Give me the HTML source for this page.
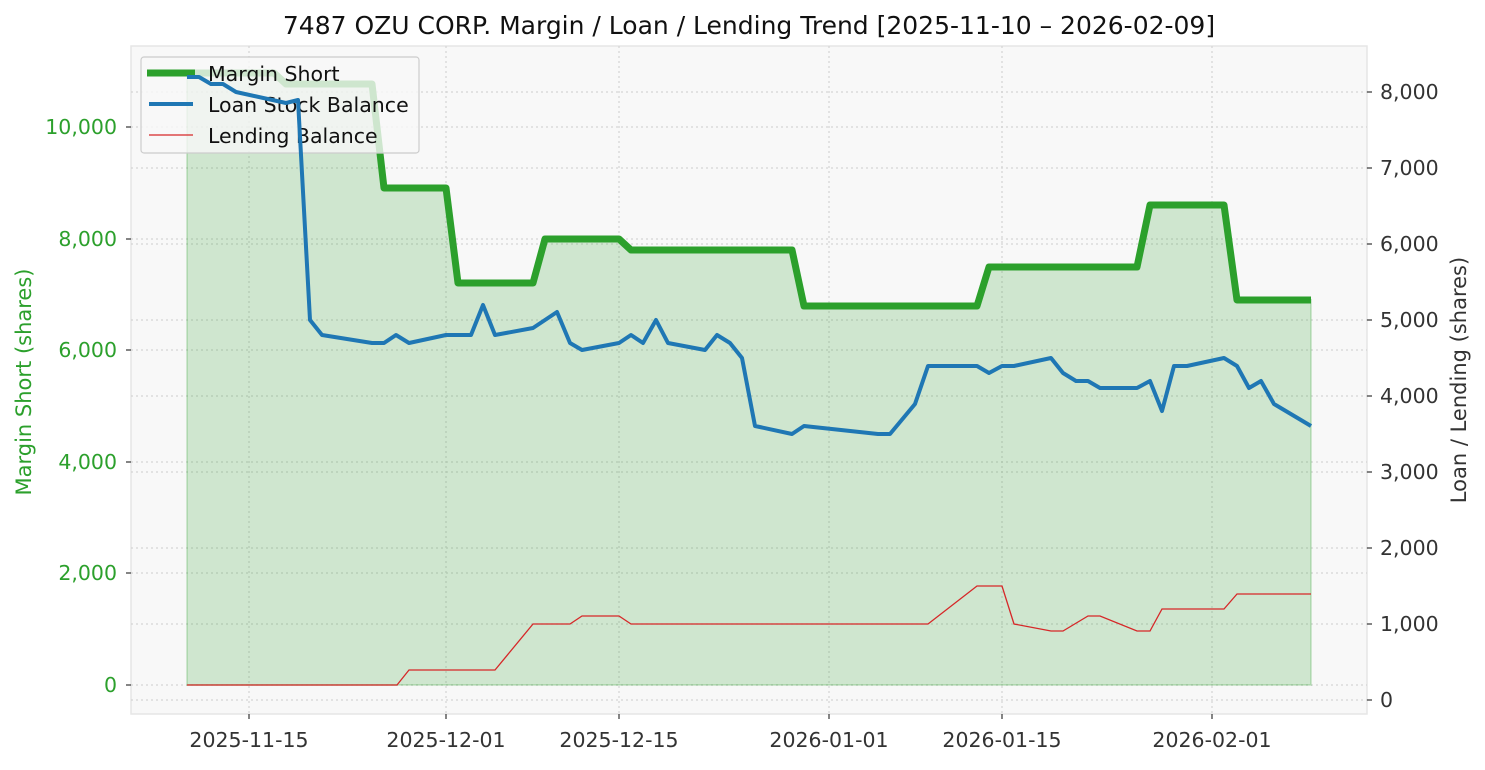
<!DOCTYPE html>
<html><head><meta charset="utf-8"><style>
html,body{margin:0;padding:0;background:#fff;}
svg text{font-family:"DejaVu Sans","Liberation Sans",sans-serif;}
</style></head><body>
<svg width="1485" height="765" viewBox="0 0 1485 765" xmlns="http://www.w3.org/2000/svg">
<rect x="0" y="0" width="1485" height="765" fill="#fff"/>
<rect x="131" y="46" width="1236" height="668" fill="#f8f8f8" stroke="#e6e6e6" stroke-width="1.5"/>
<g stroke="#d4d4d4" stroke-width="1.2" stroke-dasharray="2,3">
<line x1="249" y1="46" x2="249" y2="714"/><line x1="446" y1="46" x2="446" y2="714"/>
<line x1="619" y1="46" x2="619" y2="714"/><line x1="829" y1="46" x2="829" y2="714"/>
<line x1="1002" y1="46" x2="1002" y2="714"/><line x1="1212" y1="46" x2="1212" y2="714"/>
<line x1="131" y1="685" x2="1367" y2="685"/><line x1="131" y1="573" x2="1367" y2="573"/>
<line x1="131" y1="462" x2="1367" y2="462"/><line x1="131" y1="350" x2="1367" y2="350"/>
<line x1="131" y1="239" x2="1367" y2="239"/><line x1="131" y1="127" x2="1367" y2="127"/>
<line x1="131" y1="700" x2="1367" y2="700"/><line x1="131" y1="624" x2="1367" y2="624"/>
<line x1="131" y1="548" x2="1367" y2="548"/><line x1="131" y1="472" x2="1367" y2="472"/>
<line x1="131" y1="396" x2="1367" y2="396"/><line x1="131" y1="320" x2="1367" y2="320"/>
<line x1="131" y1="244" x2="1367" y2="244"/><line x1="131" y1="168" x2="1367" y2="168"/>
<line x1="131" y1="92" x2="1367" y2="92"/>
</g>
<polygon fill="#2ca02c" fill-opacity="0.2" stroke="#2ca02c" stroke-opacity="0.2" stroke-width="2" points="187,685 187,73 274,73 286,84 372,84 384,188 446,188 458,283 533,283 545,239 619,239 631,250 792,250 804,306 977,306 989,267 1137,267 1150,205 1224,205 1237,300 1311,300 1311,685"/>
<polyline fill="none" stroke="#2ca02c" stroke-width="7" stroke-linejoin="round" points="187,73 274,73 286,84 372,84 384,188 446,188 458,283 533,283 545,239 619,239 631,250 792,250 804,306 977,306 989,267 1137,267 1150,205 1224,205 1237,300 1311,300"/>
<rect x="141" y="57" width="278" height="96" rx="3" fill="#f8f8f8" fill-opacity="0.8" stroke="#ccc" stroke-width="1.2"/>
<line x1="147" y1="73" x2="195" y2="73" stroke="#2ca02c" stroke-width="7"/>
<line x1="149" y1="104" x2="193" y2="104" stroke="#1f77b4" stroke-width="4"/>
<line x1="149" y1="135" x2="193" y2="135" stroke="#d62728" stroke-width="1.3"/>
<g font-size="20.5" fill="#111"><text x="208" y="81">Margin Short</text><text x="208" y="112">Loan Stock Balance</text><text x="208" y="143">Lending Balance</text></g>
<polyline fill="none" stroke="#d62728" stroke-width="1.3" points="187,685 397,685 409,670 495,670 533,624 570,624 582,616 619,616 631,624 928,624 977,586 1002,586 1014,624 1051,631 1063,631 1088,616 1100,616 1137,631 1150,631 1162,609 1224,609 1237,594 1311,594"/>
<polyline fill="none" stroke="#1f77b4" stroke-width="4" stroke-linejoin="round" points="187,77 199,77 211,84 223,84 236,92 286,103 298,100 310,320 322,335 372,343 384,343 396,335 409,343 446,335 471,335 483,305 495,335 533,328 557,312 570,343 582,350 619,343 631,335 643,343 656,320 668,343 705,350 717,335 730,343 742,358 755,426 792,434 804,426 878,434 890,434 915,404 928,366 977,366 989,373 1002,366 1014,366 1051,358 1063,373 1076,381 1088,381 1100,388 1137,388 1150,381 1162,411 1174,366 1187,366 1224,358 1237,366 1249,388 1261,381 1274,404 1311,426"/>
<g stroke="#333" stroke-width="1.2">
<line x1="249" y1="714" x2="249" y2="719"/><line x1="446" y1="714" x2="446" y2="719"/><line x1="619" y1="714" x2="619" y2="719"/><line x1="829" y1="714" x2="829" y2="719"/><line x1="1002" y1="714" x2="1002" y2="719"/><line x1="1212" y1="714" x2="1212" y2="719"/>
<line x1="126" y1="685" x2="131" y2="685"/><line x1="126" y1="573" x2="131" y2="573"/><line x1="126" y1="462" x2="131" y2="462"/><line x1="126" y1="350" x2="131" y2="350"/><line x1="126" y1="239" x2="131" y2="239"/><line x1="126" y1="127" x2="131" y2="127"/>
<line x1="1367" y1="700" x2="1372" y2="700"/><line x1="1367" y1="624" x2="1372" y2="624"/><line x1="1367" y1="548" x2="1372" y2="548"/><line x1="1367" y1="472" x2="1372" y2="472"/><line x1="1367" y1="396" x2="1372" y2="396"/><line x1="1367" y1="320" x2="1372" y2="320"/><line x1="1367" y1="244" x2="1372" y2="244"/><line x1="1367" y1="168" x2="1372" y2="168"/><line x1="1367" y1="92" x2="1372" y2="92"/>
</g>
<g font-size="20.5" fill="#333" text-anchor="middle">
<text x="249" y="747">2025-11-15</text><text x="446" y="747">2025-12-01</text><text x="619" y="747">2025-12-15</text><text x="829" y="747">2026-01-01</text><text x="1002" y="747">2026-01-15</text><text x="1212" y="747">2026-02-01</text>
</g>
<g font-size="20.5" fill="#2ca02c" text-anchor="end">
<text x="117" y="692">0</text><text x="117" y="580">2,000</text><text x="117" y="469">4,000</text><text x="117" y="357">6,000</text><text x="117" y="246">8,000</text><text x="117" y="134">10,000</text>
</g>
<g font-size="20.5" fill="#333" text-anchor="start">
<text x="1380" y="707">0</text><text x="1380" y="631">1,000</text><text x="1380" y="555">2,000</text><text x="1380" y="479">3,000</text><text x="1380" y="403">4,000</text><text x="1380" y="327">5,000</text><text x="1380" y="251">6,000</text><text x="1380" y="175">7,000</text><text x="1380" y="99">8,000</text>
</g>
<text x="31" y="382" font-size="21" fill="#2ca02c" text-anchor="middle" transform="rotate(-90 31 382)">Margin Short (shares)</text>
<text x="1466" y="380" font-size="21" fill="#333" text-anchor="middle" transform="rotate(-90 1466 380)">Loan / Lending (shares)</text>
<text x="749" y="34" font-size="25" fill="#111" text-anchor="middle">7487 OZU CORP. Margin / Loan / Lending Trend [2025-11-10 – 2026-02-09]</text>
</svg>
</body></html>
